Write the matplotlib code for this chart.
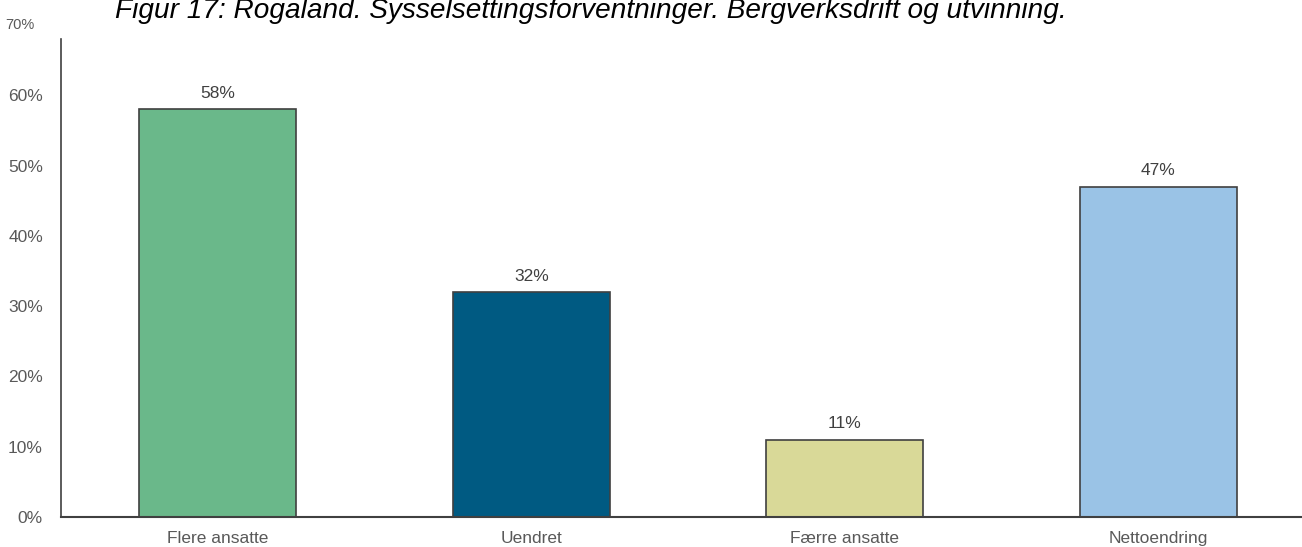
import matplotlib.pyplot as plt
from matplotlib.ticker import PercentFormatter

categories = ["Flere ansatte", "Uendret", "Færre ansatte", "Nettoendring"]
values = [0.58, 0.32, 0.11, 0.47]
bar_colors = ["#6AB88A", "#005A82", "#D9D998", "#9AC3E6"]
y_ticks = [0.0, 0.1, 0.2, 0.3, 0.4, 0.5, 0.6]
title = "Figur 17: Rogaland. Sysselsettingsforventninger. Bergverksdrift og utvinning."

plt.rcParams['font.family'] = ['Liberation Sans', 'DejaVu Sans']

fig = plt.figure(figsize=(13.02, 5.47), dpi=100)
# axes run past the right edge, as in the cropped original
ax = fig.add_axes([61 / 1302, 30 / 547, 1254 / 1302, 492 / 547])

x = range(len(categories))
ax.bar(x, values, width=0.5, color=bar_colors, edgecolor="#404040", linewidth=1.2, zorder=2)

for xi, v in zip(x, values):
    ax.annotate("{:.0%}".format(v), (xi, v), xytext=(0, 6), textcoords="offset points",
                ha="center", va="bottom", fontsize=12.5, color="#404040")

ax.set_xlim(-0.5, 3.5)
ax.set_ylim(0, 0.70)
ax.set_yticks(y_ticks)
ax.yaxis.set_major_formatter(PercentFormatter(1.0, decimals=0))
ax.set_xticks(list(x))
ax.set_xticklabels(categories)
ax.tick_params(axis="both", length=0, labelsize=12.5, labelcolor="#595959")
ax.tick_params(axis="y", pad=13)
ax.tick_params(axis="x", pad=10)

# the top label sits a bit off in the original, and is smaller
ax.text(-41 / 1254, 0.70, "70%", transform=ax.get_yaxis_transform(), ha="center", va="center",
        fontsize=10.5, color="#595959")

for side in ("top", "right"):
    ax.spines[side].set_visible(False)
ax.spines["left"].set_bounds(0, 0.68)
ax.spines["left"].set_color("#404040")
ax.spines["left"].set_linewidth(1.2)
ax.spines["bottom"].set_color("#404040")
ax.spines["bottom"].set_linewidth(1.5)

fig.text(115 / 1302, 1 - 18 / 547, title, fontsize=20.2, style="italic",
         ha="left", va="baseline", color="black")

fig.savefig("out.png", dpi=100)
